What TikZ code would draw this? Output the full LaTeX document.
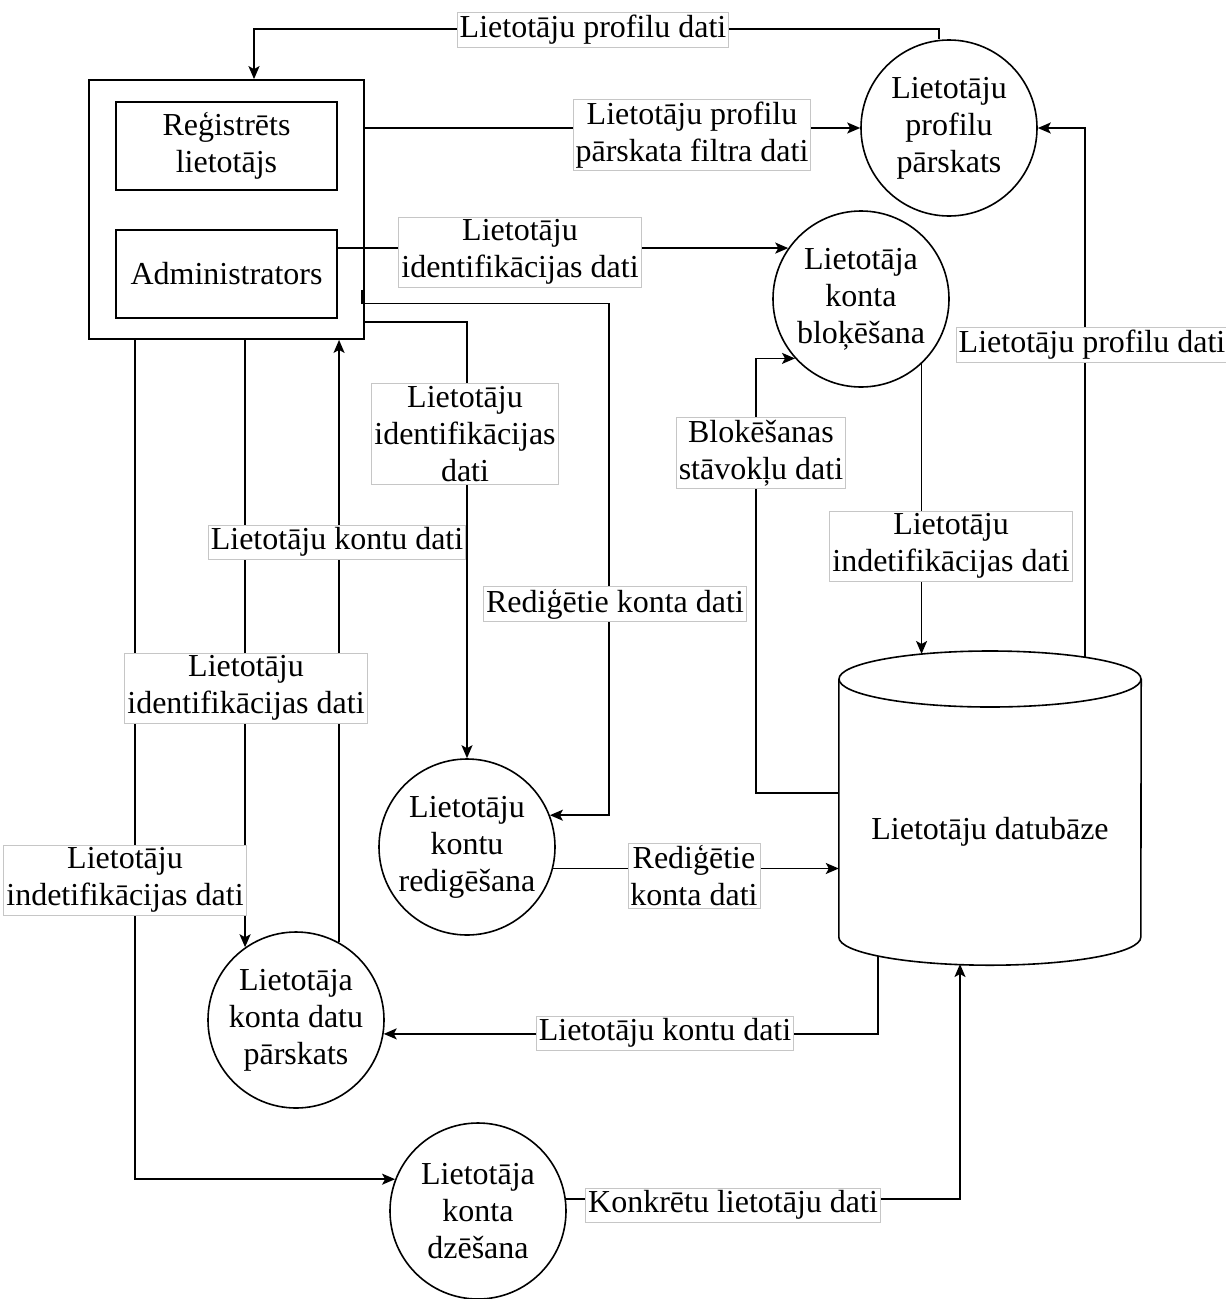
\documentclass[tikz,border=0pt]{standalone}
\usepackage{fontspec}
\setmainfont{Liberation Serif}
\usetikzlibrary{arrows.meta,calc}
\begin{document}
\begin{tikzpicture}[x=1pt,y=-1pt,
 every node/.style={font=\fontsize{32}{37}\selectfont},
 lbl/.style={draw=gray!45, line width=0.8pt, fill=white, inner sep=2.5pt, align=center},
 proc/.style={circle, draw, line width=1.6pt, minimum size=176pt, inner sep=0pt, align=center},
 boxn/.style={draw, line width=1.8pt, inner sep=0pt, align=center},
 arr/.style={line width=1.8pt, -{Stealth[length=13pt,width=11pt,inset=3pt]}}]
\fill[white] (0,0) rectangle (1226,1299);
\useasboundingbox (0,0) rectangle (1226,1299);

% entities
\node[boxn, minimum width=275pt, minimum height=259pt] (ext) at (226.5,209.5) {};
\node[boxn, minimum width=221pt, minimum height=88pt] (reg) at (226.5,146) {Reģistrēts\\lietotājs};
\node[boxn, minimum width=221pt, minimum height=88pt] (adm) at (226.5,274) {Administrators};

% processes
\node[proc] (pp) at (949,128) {Lietotāju\\profilu\\pārskats};
\node[proc] (blk) at (861,299) {Lietotāja\\konta\\bloķēšana};
\node[proc] (rd) at (467,847) {Lietotāju\\kontu\\redigēšana};
\node[proc] (dp) at (296,1020) {Lietotāja\\konta datu\\pārskats};
\node[proc] (dz) at (478,1211) {Lietotāja\\konta\\dzēšana};

% data store (cylinder)
\node[minimum width=302pt, minimum height=258pt, inner sep=0pt] (db) at (990,808) {};
\draw[line width=1.6pt] (990,679) ellipse [x radius=151pt, y radius=28pt];
\draw[line width=1.6pt] (db.north west) -- (db.south west)
  arc[start angle=180, end angle=360, x radius=151pt, y radius=28pt] -- (db.north east);
\node (dbtxt) at (990,832) {Lietotāju datubāze};

\coordinate (dbt1) at (921,654);
\coordinate (dbt2) at (1085,657);
\coordinate (dbb1) at (878,956);
\coordinate (dbb2) at (960,964);
\coordinate (dbl1) at (839,793);
\coordinate (tp) at (254,29);

% connectors
\draw[arr] ([xshift=-10pt]pp.north) |- (tp) -- (tp |- ext.north);
\draw[arr] (ext.east |- pp.west) -- (pp.west);
\draw[arr] (adm.east |- blk.145) -- (blk.145);
\draw[arr] ($(ext.east)+(-3,80)$) -- ++(0,14) -| ($(rd.21)+(59,0)$) -- (rd.21);
\draw[arr] (ext.east |- 0,322) -| (rd.north);
\draw[arr] (ext.south -| 135,0) |- (dz.159);
\draw[arr] (ext.south -| dp.125) -- (dp.125);
\draw[arr] (dp.61.5) -- (dp.61.5 |- ext.south);
\draw[arr] (dbb1) |- (dp.-9);
\draw[arr] (dz.8.5) -| (dbb2);
\draw[arr] (rd.-14.5) -- (rd.-14.5 -| db.west);
\draw[arr] (dbl1) -| ($(blk.222)+(-39,0)$) -- (blk.222);
\draw[arr] (blk.-47) -- (blk.-47 |- dbt1);
\draw[arr] (dbt2) |- (pp.east);

% labels
\node[lbl] (l1) at (593,30) {Lietotāju profilu dati};
\node[lbl] (l2) at (692,135) {Lietotāju profilu\\pārskata filtra dati};
\node[lbl] (l3) at (520,252) {Lietotāju\\identifikācijas dati};
\node[lbl] (l4) at (465,434) {Lietotāju\\identifikācijas\\dati};
\node[lbl] (l5) at (615,604) {Rediģētie konta dati};
\node[lbl] (l6) at (337,542) {Lietotāju kontu dati};
\node[lbl] (l7) at (246,688) {Lietotāju\\identifikācijas dati};
\node[lbl] (l8) at (125,880) {Lietotāju\\indetifikācijas dati};
\node[lbl] (l9) at (761,453) {Blokēšanas\\stāvokļu dati};
\node[lbl] (l10) at (951,546) {Lietotāju\\indetifikācijas dati};
\node[lbl] (l11) at (1092,345) {Lietotāju profilu dati};
\node[lbl] (l12) at (694,876) {Rediģētie\\konta dati};
\node[lbl] (l13) at (665,1033) {Lietotāju kontu dati};
\node[lbl] (l14) at (733,1205) {Konkrētu lietotāju dati};
\end{tikzpicture}
\end{document}
